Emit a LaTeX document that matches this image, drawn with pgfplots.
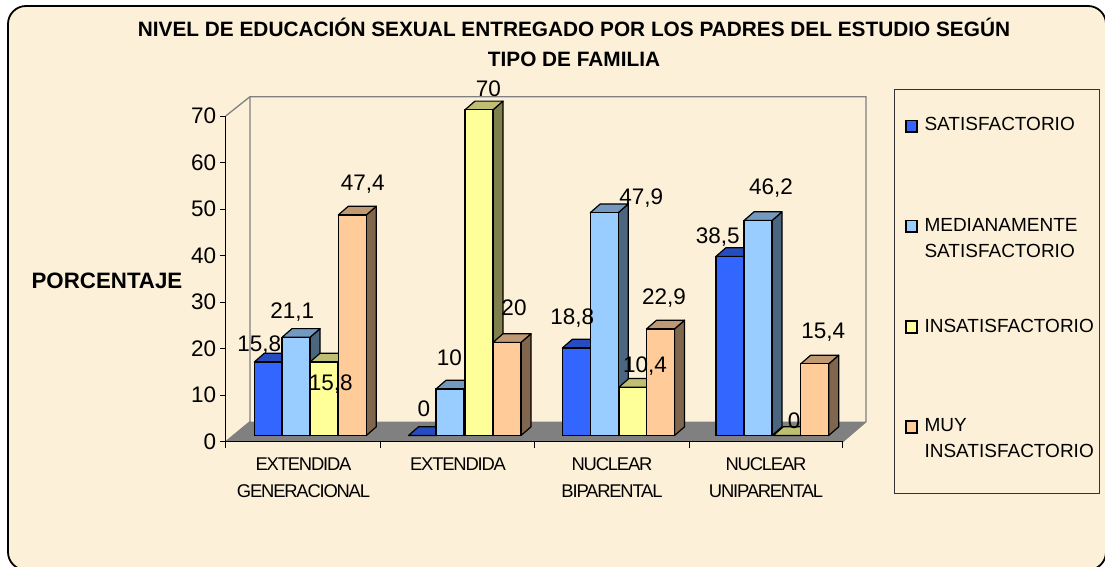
\documentclass[border=0pt]{standalone}
\usepackage{pgfplots}
\pgfplotsset{compat=1.18}
\usepackage{fontspec}
\setmainfont{Liberation Sans}
\newfontfamily\tightfont[LetterSpace=-6.5]{Liberation Sans}
\definecolor{bgc}{HTML}{FCF0D8}
\definecolor{cA}{HTML}{3366FF}\definecolor{cAt}{HTML}{264DBF}\definecolor{cAs}{HTML}{1A3380}
\definecolor{cB}{HTML}{99CCFF}\definecolor{cBt}{HTML}{7399BF}\definecolor{cBs}{HTML}{4D6680}
\definecolor{cC}{HTML}{FFFF99}\definecolor{cCt}{HTML}{BFBF73}\definecolor{cCs}{HTML}{80804D}
\definecolor{cD}{HTML}{FFCC99}\definecolor{cDt}{HTML}{BF9973}\definecolor{cDs}{HTML}{80664D}
\newcommand\BAR[3]{%
 \pgfmathsetmacro\xl{#1-14}\pgfmathsetmacro\xr{#1+14}%
 \pgfmathsetmacro\xd{#1+24}\pgfmathsetmacro\xm{#1-4}\pgfmathsetmacro\yt{#2+1.87}%
 \edef\doit{\noexpand\addplot[fill=#3s,draw=black,line width=1.2pt,line join=round,yshift=6.2pt] coordinates {(\xr,0) (\xd,1.87) (\xd,\yt) (\xr,#2)} -- cycle;
 \noexpand\addplot[fill=#3t,draw=black,line width=1.2pt,line join=round,yshift=6.2pt] coordinates {(\xl,#2) (\xr,#2) (\xd,\yt) (\xm,\yt)} -- cycle;}\doit
 \addplot[ybar,bar width=28,bar shift=0pt,fill=#3,draw=black,line width=1.2pt,yshift=6.2pt] coordinates {(#1,#2)};
}
\begin{document}
\begin{tikzpicture}
\begin{scope}[x=1pt,y=-1pt]
\path[use as bounding box] (0,0) rectangle (1105,567);
\begin{scope}
\clip (0,0) rectangle (1105,567);
\draw[fill=bgc,draw=black,line width=1.8pt,rounded corners=18pt] (8,6) rectangle (1106,570);
\end{scope}
% walls and floor
\fill[black!50] (225.7,441.7) -- (250,421.7) -- (866,421.7) -- (842.7,441.7) -- cycle;
\draw[black!50,line width=1.3pt] (225.7,116) -- (250,96.7) -- (866,96.7) -- (866,421.7) -- (842.7,441.7);
\draw[black!50,line width=1.3pt] (250,96.7) -- (250,421.7) -- (225.7,441.7);
\end{scope}
\begin{axis}[
 at={(225.7pt,-441.7pt)},anchor=south west,
 scale only axis,width=617pt,height=325.7pt,
 xmin=225.7,xmax=842.7,ymin=0,ymax=70,clip=false,
 axis lines=left,axis line style={-,line width=1.3pt,black},
 xtick={303.5,458,612,766},
 xticklabels={EXTENDIDA\\GENERACIONAL,EXTENDIDA,NUCLEAR\\BIPARENTAL,NUCLEAR\\UNIPARENTAL},
 major x tick style={draw=none},
 minor xtick={225.7,380.6,534.9,689.2,842.7},
 minor x tick style={black,line width=1pt},
 minor tick length=6pt,
 xticklabel style={font=\tightfont\fontsize{18.4}{27}\selectfont,align=center,text depth=0pt,anchor=north,yshift=-6.5pt},
 ytick={0,10,...,70},
 yticklabel style={font=\fontsize{22.5}{24}\selectfont,/pgf/number format/assume math mode=true},
 major y tick style={black,line width=1pt},
 tick align=outside,
 major tick length=6pt,
]
\BAR{268.3}{15.8}{cA}
\BAR{296}{21.1}{cB}
\BAR{324}{15.8}{cC}
\BAR{352.3}{47.4}{cD}
\BAR{422.5}{0}{cA}
\BAR{450}{10}{cB}
\BAR{479}{70}{cC}
\BAR{507}{20}{cD}
\BAR{576.3}{18.8}{cA}
\BAR{604.3}{47.9}{cB}
\BAR{633}{10.4}{cC}
\BAR{660.5}{22.9}{cD}
\BAR{730}{38.5}{cA}
\BAR{758}{46.2}{cB}
\BAR{787.3}{0}{cC}
\BAR{814.7}{15.4}{cD}
\end{axis}
\begin{scope}[x=1pt,y=-1pt]
\tikzset{lab/.style={font=\fontsize{22.5}{24}\selectfont,inner sep=0pt}}
\node[lab] at (259.3,345) {15,8};
\node[lab] at (292.3,311.7) {21,1};
\node[lab] at (330.7,384) {15,8};
\node[lab] at (362.7,184) {47,4};
\node[lab] at (424,409) {0};
\node[lab] at (449.3,358) {10};
\node[lab] at (488.3,88.3) {70};
\node[lab] at (514,307.3) {20};
\node[lab] at (572.3,317.7) {18,8};
\node[lab] at (641.3,198.3) {47,9};
\node[lab] at (645,366) {10,4};
\node[lab] at (664,298.3) {22,9};
\node[lab] at (717.7,237.3) {38,5};
\node[lab] at (771,187.7) {46,2};
\node[lab] at (794,420.7) {0};
\node[lab] at (823.3,331.7) {15,4};
% title
\node[font=\fontsize{20.8}{30}\selectfont\bfseries,align=center] at (574,42) {NIVEL DE EDUCACIÓN SEXUAL ENTREGADO POR LOS PADRES DEL ESTUDIO SEGÚN\\TIPO DE FAMILIA};
\node[font=\fontsize{22.3}{24}\selectfont\bfseries] at (107,281) {PORCENTAJE};
% legend
\draw[black!80!white,line width=1pt] (894.3,89.3) rectangle (1099,493.3);
\tikzset{lg/.style={font=\fontsize{19}{25.7}\selectfont,align=left,anchor=west,inner sep=0pt}}
\draw[fill=cA,line width=1.2pt] (906,120.3) rectangle (917,132);
\draw[fill=cB,line width=1.2pt] (906,220.3) rectangle (917,232);
\draw[fill=cC,line width=1.2pt] (906,321) rectangle (917,333);
\draw[fill=cD,line width=1.2pt] (906,421) rectangle (917,433);
\node[lg] at (924.3,124.3) {SATISFACTORIO};
\node[lg] at (924.3,238) {MEDIANAMENTE\\SATISFACTORIO};
\node[lg] at (924.3,326) {INSATISFACTORIO};
\node[lg] at (924.3,438) {MUY\\INSATISFACTORIO};
\end{scope}
\end{tikzpicture}
\end{document}
